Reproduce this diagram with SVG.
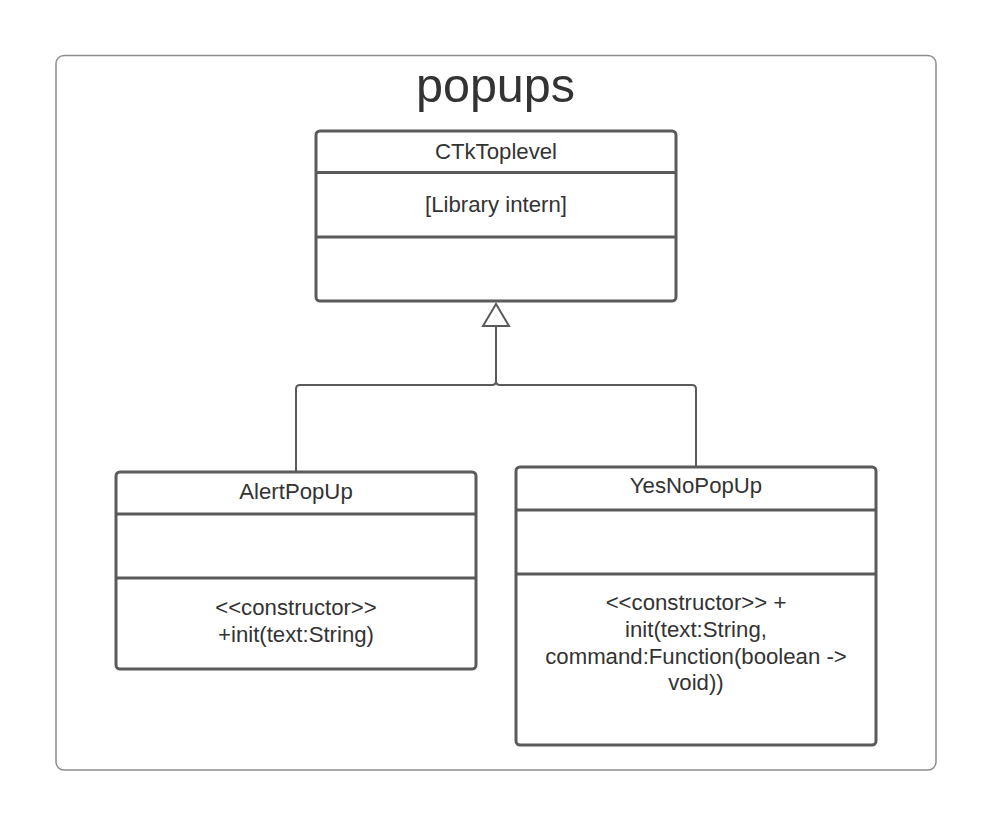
<svg xmlns="http://www.w3.org/2000/svg" width="989" height="819" viewBox="0 0 989 819">
<style>
.frame{fill:#fff;stroke:#8c8c8c;stroke-width:1.5}
.box{fill:#fff;stroke:#5a5a5a;stroke-width:3}
.div{stroke:#5a5a5a;stroke-width:3}
.t{font-family:"Liberation Sans",Arial,sans-serif;font-size:22.2px;fill:#333;text-anchor:middle}
.title{font-family:"Liberation Sans",Arial,sans-serif;font-size:48.5px;fill:#333;text-anchor:middle}
.conn{fill:none;stroke:#5a5a5a;stroke-width:2}
</style>
<rect width="989" height="819" fill="#fff"/>
<g id="frame">
<rect class="frame" x="56" y="55.5" width="880" height="714.5" rx="8"/>
<text class="title" x="495.5" y="102">popups</text>
</g>
<g id="connectors">
<path class="conn" d="M296 472 V389 Q296 385 300 385 H492 Q496 385 496 381 V326"/>
<path class="conn" d="M696 467 V389 Q696 385 692 385 H500 Q496 385 496 381"/>
<polygon points="496,304 483,326 509,326" fill="#fff" stroke="#5a5a5a" stroke-width="2"/>
</g>
<g id="CTkToplevel">
<rect class="box" x="316" y="131" width="360" height="170" rx="4"/>
<line class="div" x1="316" y1="172.5" x2="676" y2="172.5"/>
<line class="div" x1="316" y1="237" x2="676" y2="237"/>
<text class="t" x="496" y="159">CTkToplevel</text>
<text class="t" x="496" y="212">[Library intern]</text>
</g>
<g id="AlertPopUp">
<rect class="box" x="116" y="472" width="360" height="197" rx="4"/>
<line class="div" x1="116" y1="514" x2="476" y2="514"/>
<line class="div" x1="116" y1="578" x2="476" y2="578"/>
<text class="t" x="296" y="499">AlertPopUp</text>
<text class="t" x="296" y="615">&lt;&lt;constructor&gt;&gt;</text>
<text class="t" x="296" y="642">+init(text:String)</text>
</g>
<g id="YesNoPopUp">
<rect class="box" x="516" y="467" width="360" height="278" rx="4"/>
<line class="div" x1="516" y1="510" x2="876" y2="510"/>
<line class="div" x1="516" y1="574" x2="876" y2="574"/>
<text class="t" x="696" y="493">YesNoPopUp</text>
<text class="t" x="696" y="610">&lt;&lt;constructor&gt;&gt; +</text>
<text class="t" x="696" y="637">init(text:String,</text>
<text class="t" x="696" y="664">command:Function(boolean -&gt;</text>
<text class="t" x="696" y="690">void))</text>
</g>
</svg>
